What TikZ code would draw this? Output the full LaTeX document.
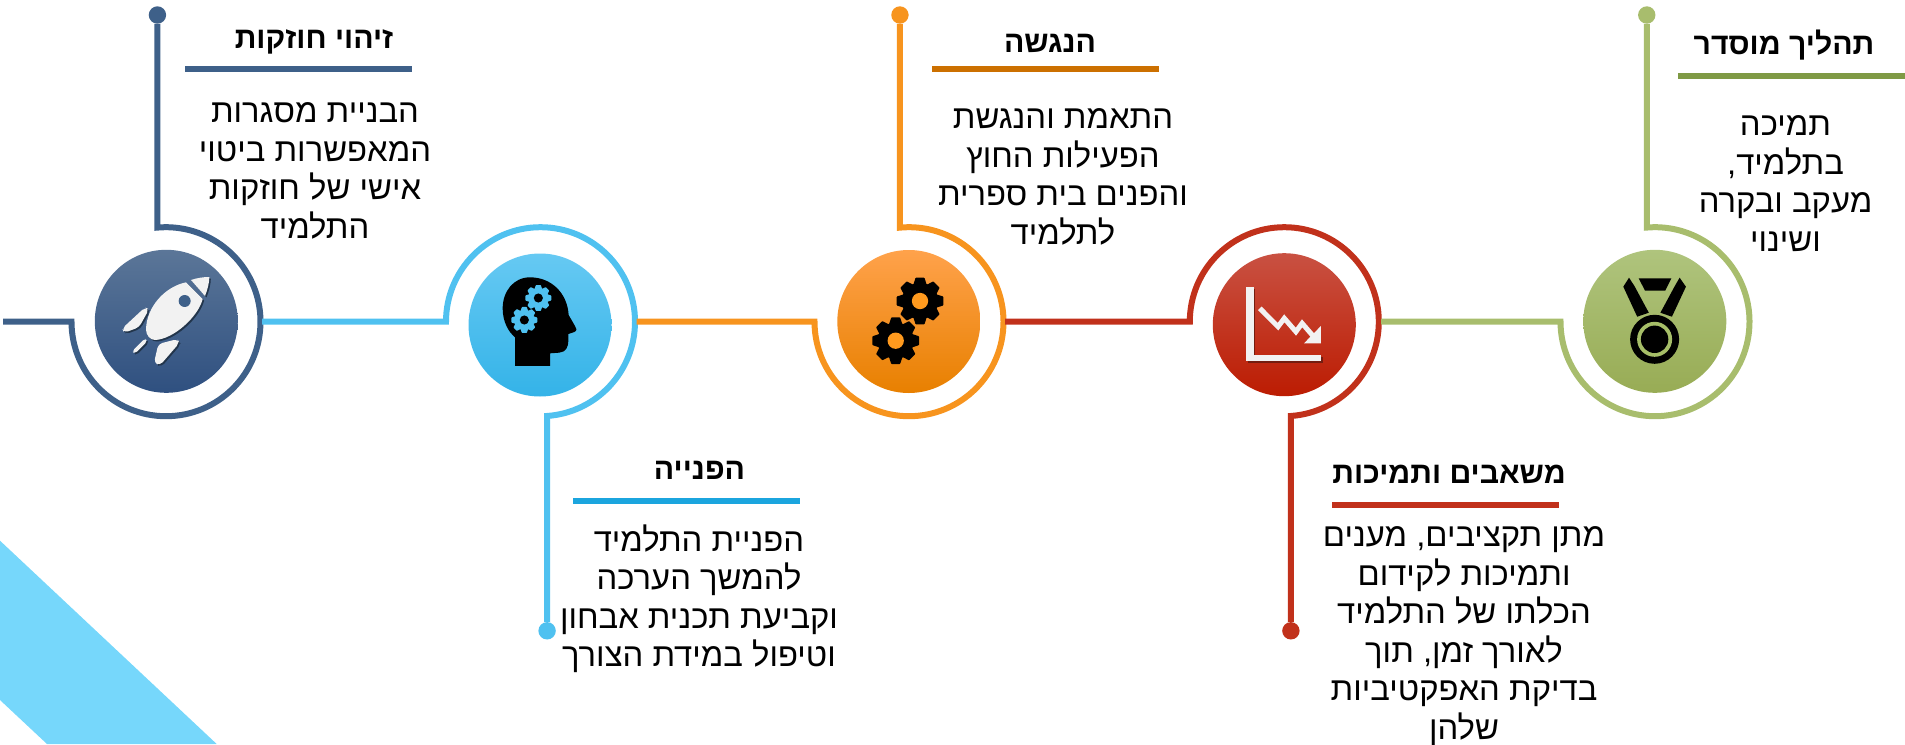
\documentclass[tikz,border=0pt]{standalone}
\usepackage{fontspec}
\newfontfamily\hebfont[Script=Hebrew]{Liberation Sans}
\TeXXeTstate=1
\definecolor{navyline}{HTML}{3E6089}
\definecolor{skyline}{HTML}{4FC1F0}
\definecolor{orangeline}{HTML}{F7941E}
\definecolor{redline}{HTML}{C1311B}
\definecolor{greenline}{HTML}{A8BD6D}
\definecolor{skyrule}{HTML}{1BA5DE}
\definecolor{orangerule}{HTML}{CC7000}
\definecolor{greenrule}{HTML}{7F9A45}
\definecolor{cornerblue}{HTML}{76D7FB}
\definecolor{iconwhite}{HTML}{F2F2F2}
\definecolor{navytop}{HTML}{5B7698}
\definecolor{navymid}{HTML}{3C6190}
\definecolor{navylow}{HTML}{2F5080}
\definecolor{skytop}{HTML}{66C9F3}
\definecolor{skymid}{HTML}{45C1F4}
\definecolor{skylow}{HTML}{34B3E8}
\definecolor{orangetop}{HTML}{FFA24B}
\definecolor{orangemid}{HTML}{FF9A1E}
\definecolor{orangelow}{HTML}{E88000}
\definecolor{redtop}{HTML}{C95142}
\definecolor{redmid}{HTML}{C8301A}
\definecolor{redlow}{HTML}{BC1C02}
\definecolor{greentop}{HTML}{AFC47D}
\definecolor{greenmid}{HTML}{A6BE68}
\definecolor{greenlow}{HTML}{98AC55}
\newcommand{\rl}[1]{\beginR #1\endR}
\newcommand{\gearicon}[5]{%
  \fill[#4] (#1,#2) circle ({0.78*#3});
  \foreach \a in {0,45,...,315}
    \fill[#4,rounded corners=0.6,shift={(#1,#2)},rotate=\a]
      ({-0.3*#3},{-0.66*#3}) -- ({-0.19*#3},{-#3}) -- ({0.19*#3},{-#3}) -- ({0.3*#3},{-0.66*#3}) -- cycle;
  \fill[#5] (#1,#2) circle ({0.35*#3});
}
\newcommand{\rocketshape}[1]{%
  \fill[#1] (288,97) .. controls (225,110) and (170,170) .. (168,238)
    .. controls (168,255) and (180,270) .. (195,270)
    .. controls (250,268) and (325,200) .. (338,147) -- cycle;
  \fill[#1] (303,90) .. controls (320,84) and (340,81) .. (358,81)
    .. controls (358,100) and (352,120) .. (345,138) -- cycle;
  \fill[#1,rounded corners=4] (165,172) -- (177,178) -- (147,232) -- (103,248) -- (96,236) -- cycle;
  \fill[#1,rounded corners=3] (165,265) -- (172,274) -- (135,311) -- (126,304) -- cycle;
  \fill[#1,rounded corners=4] (205,282) -- (263,267) -- (268,279) -- (210,346) -- (192,339) -- cycle;
}
\tikzset{
  ringline/.style={line width=6pt,line join=miter},
  tipdot/.style={circle,minimum size=17.4,inner sep=0pt},
  iconball/.style={circle,minimum size=143,inner sep=0pt,shading=axis,shading angle=0},
  titletext/.style={font=\hebfont\bfseries\fontsize{30.2}{34}\selectfont,inner sep=0pt},
  bodytext/.style={font=\hebfont\fontsize{32.8}{38.5}\selectfont,align=center,inner sep=0pt},
  rulebar/.style={minimum width=227,minimum height=6,inner sep=0pt},
}
\begin{document}
\begin{tikzpicture}[x=1pt,y=-1pt]
  \useasboundingbox (0,0) rectangle (1905,744);
  \fill[cornerblue] (0,540.7) -- (216.7,744) -- (47,744) -- (0,700) -- cycle;
  % balls
  \node[iconball,top color=navytop,middle color=navymid,bottom color=navylow] (rocket) at (166.3,321.3) {};
  \node[iconball,top color=skytop,middle color=skymid,bottom color=skylow] (head) at (540,325) {};
  \node[iconball,top color=orangetop,middle color=orangemid,bottom color=orangelow] (gears) at (908.8,321.5) {};
  \node[iconball,top color=redtop,middle color=redmid,bottom color=redlow] (chart) at (1284.3,324.7) {};
  \node[iconball,top color=greentop,middle color=greenmid,bottom color=greenlow] (medal) at (1654.8,321.3) {};
  % tips of the lines
  \node[tipdot,fill=navyline] (dotA) at (157.44,15) {};
  \node[tipdot,fill=skyline] (dotB) at (547.09,630.8) {};
  \node[tipdot,fill=orangeline] (dotC) at (899.94,15) {};
  \node[tipdot,fill=redline] (dotD) at (1290.89,630.8) {};
  \node[tipdot,fill=greenline] (dotE) at (1646.76,15) {};
  % line ends and corners
  \coordinate (startA) at (3,321.7);
  \coordinate (cornerA) at (71.5,321.7);
  \coordinate (startB) at (262,321.7);
  \coordinate (cornerB) at (446,321.7);
  \coordinate (startC) at (636.5,321.7);
  \coordinate (cornerC) at (814.5,321.7);
  \coordinate (startD) at (1005,321.7);
  \coordinate (cornerD) at (1189.8,321.7);
  \coordinate (startE) at (1381,321.7);
  \coordinate (cornerE) at (1560.5,321.7);
  \draw[ringline,navyline] (startA) -- (cornerA) arc[start angle=180,end angle=-95.2,radius=94.5] -- (dotA);
  \draw[ringline,skyline] (startB) -- (cornerB) arc[start angle=180,end angle=446,radius=94.5] -- (dotB);
  \draw[ringline,orangeline] (startC) -- (cornerC) arc[start angle=180,end angle=-95.5,radius=94.5] -- (dotC);
  \draw[ringline,redline] (startD) -- (cornerD) arc[start angle=180,end angle=446,radius=94.5] -- (dotD);
  \draw[ringline,greenline] (startE) -- (cornerE) arc[start angle=180,end angle=-95,radius=94.5] -- (dotE);
  % titles and rules
  \node[titletext] (titleA) at (314,42) {\rl{זיהוי חוזקות}};
  \node[rulebar,fill=navyline] (ruleA) at (298.5,69) {};
  \node[titletext] (titleB) at (699.5,470) {\rl{הפנייה}};
  \node[rulebar,fill=skyrule] (ruleB) at (686,501) {};
  \node[titletext] (titleC) at (1050,43) {\rl{הנגשה}};
  \node[rulebar,fill=orangerule] (ruleC) at (1045,69) {};
  \node[titletext] (titleD) at (1449,474) {\rl{משאבים ותמיכות}};
  \node[rulebar,fill=redline] (ruleD) at (1445,505) {};
  \node[titletext] (titleE) at (1784,45) {\rl{תהליך מוסדר}};
  \node[rulebar,fill=greenrule] (ruleE) at (1791,75.7) {};
  % texts
  \node[bodytext] (textA) at (315,171) {\rl{הבניית מסגרות}\\\rl{המאפשרות ביטוי}\\\rl{אישי של חוזקות}\\\rl{התלמיד}};
  \node[bodytext] (textB) at (699,598.5) {\rl{הפניית התלמיד}\\\rl{להמשך הערכה}\\\rl{וקביעת תכנית אבחון}\\\rl{וטיפול במידת הצורך}};
  \node[bodytext] (textC) at (1063,177) {\rl{התאמת והנגשת}\\\rl{הפעילות החוץ}\\\rl{והפנים בית ספרית}\\\rl{לתלמיד}};
  \node[bodytext] (textD) at (1464,636) {\rl{מתן תקציבים, מענים}\\\rl{ותמיכות לקידום}\\\rl{הכלתו של התלמיד}\\\rl{לאורך זמן, תוך}\\\rl{בדיקת האפקטיביות}\\\rl{שלהן}};
  \node[bodytext] (textE) at (1785.5,183.5) {\rl{תמיכה}\\\rl{בתלמיד,}\\\rl{מעקב ובקרה}\\\rl{ושינוי}};
  % rocket
  \begin{scope}[shift={(91.5,251.5)},scale=0.3333]
    \rocketshape{black!45!navyline}
  \end{scope}
  \begin{scope}[shift={(90,250)},scale=0.3333]
    \rocketshape{iconwhite}
    \fill[navyline] (284,153) circle (18);
  \end{scope}
  % head
  \begin{scope}[shift={(480,260)},scale=0.3333]
    \fill[black] (105,318) -- (210,318) -- (210,280) -- (238,278)
      .. controls (258,276) and (265,262) .. (265,240) -- (265,222) -- (283,216)
      .. controls (292,212) and (290,205) .. (285,198) -- (266,165)
      .. controls (262,100) and (215,52) .. (150,52)
      .. controls (100,52) and (68,95) .. (68,145)
      .. controls (68,185) and (85,215) .. (105,232) -- cycle;
    \gearicon{175}{114}{39}{skyline}{black}
    \gearicon{133}{180}{39}{skyline}{black}
  \end{scope}
  % gears
  \gearicon{920}{301}{23.3}{black}{orangemid}
  \gearicon{895.7}{340.7}{23.3}{black}{orangemid}
  % chart
  \begin{scope}[shift={(1.5,2)}]
    \fill[black!40!redline] (1246.3,287) rectangle (1253.5,361);
    \fill[black!40!redline] (1246.3,355) rectangle (1321,361);
  \end{scope}
  \fill[iconwhite] (1246.3,287) rectangle (1253.5,361);
  \fill[iconwhite] (1246.3,355) rectangle (1321,361);
  \draw[iconwhite,line width=5pt] (1259.8,308.3) -- (1278,326.7) -- (1284.3,318.3) -- (1295.9,331.7) -- (1302.1,323.3) -- (1313.7,336.7);
  \fill[iconwhite] (1320.9,326) -- (1320.9,343.3) -- (1304,343.3) -- cycle;
  % medal
  \fill[black] (1629,277.7) -- (1634.4,286) -- (1648.8,312.7) -- (1637.2,316.7) -- (1623.3,286.7) -- cycle;
  \fill[black] (1679.6,277.7) -- (1674.8,286) -- (1660.4,312.7) -- (1671.9,316.7) -- (1685.9,286.7) -- cycle;
  \fill[black] (1638.7,278.3) -- (1671.4,278.3) -- (1665.2,290.7) -- (1645,290.7) -- cycle;
  \fill[black] (1654.6,339.3) circle (24.5);
  \fill[greenmid] (1654.6,339.3) circle (17.5);
  \fill[black] (1654.6,339.3) circle (13.7);
\end{tikzpicture}
\end{document}
